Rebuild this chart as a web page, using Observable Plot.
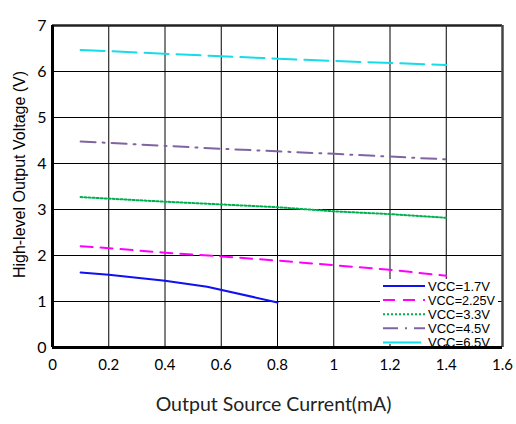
<!DOCTYPE html>
<html>
<head>
<meta charset="utf-8">
<script src="https://cdn.jsdelivr.net/npm/d3@7"></script>
<script src="https://cdn.jsdelivr.net/npm/@observablehq/plot@0.6"></script>
<style>
  html, body { margin: 0; padding: 0; background: #fff; }
  #wrap { position: relative; width: 516px; height: 424px; }
  #legend { position: absolute; left: 0; top: 0; }
  #legend text { font: 12.5px "Liberation Sans", Arial, sans-serif; }
</style>
</head>
<body>
<div id="wrap"></div>
<script>
// ---- data ----
const xTicks = [0, 0.2, 0.4, 0.6, 0.8, 1, 1.2, 1.4, 1.6];
const yTicks = [0, 1, 2, 3, 4, 5, 6, 7];

const seriesNames = ["VCC=1.7V", "VCC=2.25V", "VCC=3.3V", "VCC=4.5V", "VCC=6.5V"];

const current17 = [0.1, 0.2, 0.4, 0.55, 0.8];
const volt17 = [1.63, 1.58, 1.45, 1.32, 0.98];

const current225 = [0.1, 0.2, 0.4, 0.6, 0.8, 1.0, 1.2, 1.4];
const volt225 = [2.20, 2.16, 2.06, 1.98, 1.89, 1.79, 1.69, 1.56];

const current33 = [0.1, 0.4, 0.6, 0.8, 1.0, 1.2, 1.4];
const volt33 = [3.27, 3.17, 3.11, 3.05, 2.96, 2.90, 2.82];

const current45 = [0.1, 0.6, 1.0, 1.4];
const volt45 = [4.48, 4.32, 4.21, 4.09];

const current65 = [0.1, 0.6, 1.0, 1.4];
const volt65 = [6.47, 6.33, 6.23, 6.14];

// ---- styles ----
const styles = [
  {stroke: "#1010f0", dash: null, legendDash: null},
  {stroke: "#ff00ff", dash: "12,8", legendDash: "12,8"},
  {stroke: "#00b050", dash: "2,2", legendDash: "2,2"},
  {stroke: "#8064a2", dash: "15,7,2,7", legendDash: "15,7,2,7"},
  {stroke: "#14dce8", dash: "24,8", legendDash: null}
];

const series = [
  [current17, volt17],
  [current225, volt225],
  [current33, volt33],
  [current45, volt45],
  [current65, volt65]
];

const lineMarks = series.map(([xs, ys], i) =>
  Plot.line(xs.map((x, j) => ({x, y: ys[j]})), {
    x: "x", y: "y",
    stroke: styles[i].stroke,
    strokeWidth: 2,
    strokeDasharray: styles[i].dash ?? undefined
  })
);

const chart = Plot.plot({
  width: 516,
  height: 424,
  marginLeft: 52,
  marginRight: 14,
  marginTop: 25,
  marginBottom: 77,
  style: {fontFamily: "Lato, sans-serif", background: "#fff"},
  x: {domain: [0, 1.6]},
  y: {domain: [0, 7]},
  marks: [
    Plot.gridX(xTicks, {stroke: "#000", strokeOpacity: 1, strokeWidth: 1}),
    Plot.gridY(yTicks, {stroke: "#000", strokeOpacity: 1, strokeWidth: 1}),
    Plot.ruleY([7], {stroke: "#222", strokeWidth: 2.5}),
    Plot.ruleX([1.6], {stroke: "#444", strokeWidth: 2.5}),
    ...lineMarks,
    Plot.ruleX([0], {stroke: "#000", strokeWidth: 3}),
    Plot.ruleY([0], {stroke: "#000", strokeWidth: 3}),
    Plot.axisX(xTicks, {tickSize: 0, tickPadding: 12, fontSize: 15, label: null,
      tickFormat: d => String(d), fill: "#000", style: {letterSpacing: "1px"}}),
    Plot.axisY(yTicks, {tickSize: 0, tickPadding: 6, fontSize: 16, label: null,
      tickFormat: d => String(d), fill: "#000"}),
    Plot.text(["Output Source Current(mA)"], {
      frameAnchor: "bottom", dy: 63, dx: -4, fontSize: 19.5, fill: "#222",
      fontFamily: "Lato, sans-serif"
    }),
    Plot.text(["High-level Output Voltage (V)"], {
      frameAnchor: "left", dx: -33, dy: -12, rotate: -90, textAnchor: "middle",
      fontSize: 16, fill: "#000",
      fontFamily: "'Liberation Sans', Arial, sans-serif"
    })
  ]
});

const wrap = document.getElementById("wrap");
wrap.appendChild(chart);

// ---- legend overlay ----
const lg = d3.select(wrap).append("svg")
  .attr("id", "legend")
  .attr("width", 516).attr("height", 424);

const lx = 380, ly = 279, lw = 118, lh = 65;
lg.append("rect").attr("x", lx).attr("y", ly).attr("width", lw).attr("height", lh).attr("fill", "#fff");

seriesNames.forEach((name, i) => {
  const yy = 286 + i * 14.1;
  const line = lg.append("line")
    .attr("x1", 383).attr("x2", i === 4 ? 421 : 425).attr("y1", yy).attr("y2", yy)
    .attr("stroke", styles[i].stroke).attr("stroke-width", 2);
  if (styles[i].legendDash) line.attr("stroke-dasharray", styles[i].legendDash);
  lg.append("text")
    .attr("x", 428).attr("y", yy + 4.5)
    .attr("fill", "#000")
    .attr("textLength", i === 1 ? 67 : 62)
    .attr("lengthAdjust", "spacingAndGlyphs")
    .text(name);
});
</script>
</body>
</html>
